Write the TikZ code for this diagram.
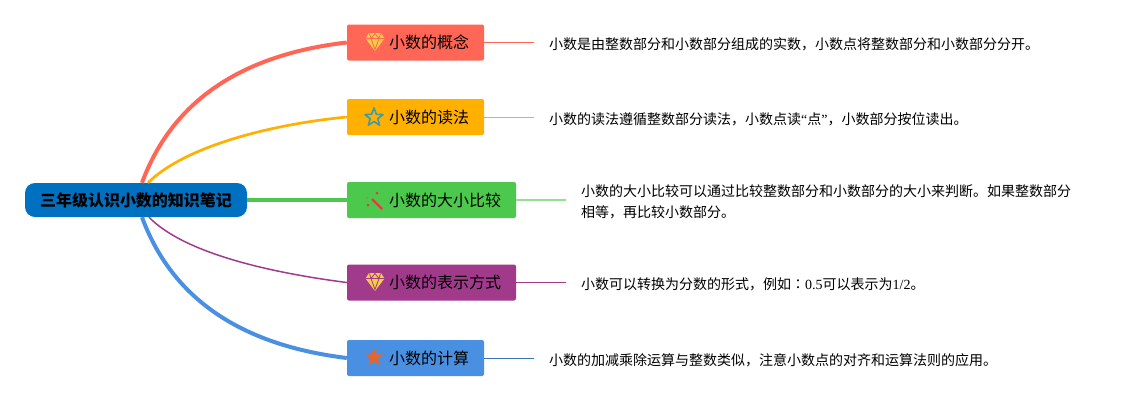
\documentclass[tikz,border=0pt]{standalone}
\usepackage{fontspec}
\setmainfont{Noto Sans CJK SC}
\newfontfamily\latinfont{Liberation Serif}
\newfontfamily\colonfont{Noto Sans CJK TC}
\definecolor{rootblue}{HTML}{0070C0}
\definecolor{topicred}{HTML}{FF6655}
\definecolor{topicorange}{HTML}{FFB000}
\definecolor{topicgreen}{HTML}{4CC94C}
\definecolor{topicpurple}{HTML}{A23A8C}
\definecolor{topicblue}{HTML}{4A90E2}
\definecolor{gemyellow}{HTML}{F7CB45}
\definecolor{starteal}{HTML}{3E9CA8}
\definecolor{starred}{HTML}{E8642C}
\definecolor{wandred}{HTML}{D9403F}
\tikzset{
    rootnode/.style={fill=rootblue, rounded corners=10pt, minimum width=222pt, minimum height=34pt,
        inner sep=0pt, font=\fontsize{16}{18}\selectfont\bfseries},
    topicnode/.style={fill=#1, rounded corners=2pt, minimum height=36pt, inner xsep=15pt, inner ysep=0pt,
        font=\fontsize{16}{20}\selectfont, execute at begin node=\hspace*{27pt}},
    leafnode/.style={anchor=west, align=left, inner xsep=15pt, inner ysep=0pt,
        font=\fontsize{14}{21}\selectfont},
    gem/.pic={
        \fill[gemyellow, rounded corners=0.5pt] (-6,-9) -- (6,-9) -- (9.5,-3.5) -- (0,9) -- (-9.5,-3.5) -- cycle;
        \draw[#1, line width=0.8pt] (-9,-3.5) -- (9,-3.5) (-4,-3.5) -- (0,7.5) -- (4,-3.5) (-5.5,-8.5) -- (-4,-3.5) -- (0,-8.5) -- (4,-3.5) -- (5.5,-8.5);
    },
    starshape/.pic={
        \path[pic actions] (0,-9.5) -- (2.4,-3.2) -- (9,-2.9) -- (3.8,1.2) -- (5.6,7.7) -- (0,4)
            -- (-5.6,7.7) -- (-3.8,1.2) -- (-9,-2.9) -- (-2.4,-3.2) -- cycle;
    },
}
\begin{document}
\begin{tikzpicture}[x=1pt, y=-1pt]
    \useasboundingbox (0,0) rectangle (1141,400);

    \node[rootnode] (root) at (136,200) {三年级认识小数的知识笔记};

    \node[topicnode=topicred] (concept) at (415.5,42.5) {\raisebox{-1pt}{小数的概念}};
    \node[topicnode=topicorange] (reading) at (415.5,117) {\raisebox{-1pt}{小数的读法}};
    \node[topicnode=topicgreen] (compare) at (431.5,200) {\raisebox{-1pt}{小数的大小比较}};
    \node[topicnode=topicpurple] (notation) at (431.5,282.5) {\raisebox{-1pt}{小数的表示方式}};
    \node[topicnode=topicblue] (compute) at (415.5,358) {\raisebox{-1pt}{小数的计算}};

    \node[leafnode] (conceptleaf) at (534,44.5) {小数是由整数部分和小数部分组成的实数，小数点将整数部分和小数部分分开。};
    \node[leafnode] (readingleaf) at (534,119) {小数的读法遵循整数部分读法，小数点读{\latinfont “}点{\latinfont ”}，小数部分按位读出。};
    \node[leafnode] (compareleaf) at (566,201.5) {小数的大小比较可以通过比较整数部分和小数部分的大小来判断。如果整数部分\\相等，再比较小数部分。};
    \node[leafnode] (notationleaf) at (566,284.5) {小数可以转换为分数的形式，例如{\colonfont ：}{\latinfont 0.5}可以表示为{\latinfont 1/2}。};
    \node[leafnode] (computeleaf) at (534,360) {小数的加减乘除运算与整数类似，注意小数点的对齐和运算法则的应用。};

    \draw[topicred, line width=4pt] ([xshift=6pt]root.north) .. controls (178,85) and (265,52) .. (concept.west);
    \draw[topicorange, line width=2.7pt] ([xshift=12pt]root.north) .. controls (183,148) and (265,125) .. (reading.west);
    \draw[topicgreen, line width=3.5pt] (root.east) -- (compare.west);
    \draw[topicpurple, line width=1.5pt] ([xshift=13pt]root.south) .. controls (183,252) and (265,272) .. (notation.west);
    \draw[topicblue, line width=4pt] ([xshift=6pt]root.south) .. controls (178,315) and (265,348) .. (compute.west);

    \draw[topicred] (concept) -- (concept -| conceptleaf.west);
    \draw[topicorange] (reading) -- (reading -| readingleaf.west);
    \draw[topicgreen!60!white, line width=1.5pt] (compare) -- (compare -| compareleaf.west);
    \draw[topicpurple] (notation) -- (notation -| notationleaf.west);
    \draw[topicblue!80!black] (compute) -- (compute -| computeleaf.west);

    % icons
    \pic at (375,42) {gem=topicred};
    \pic[draw=starteal, line width=1.6pt, line join=round] at (374,117.5) {starshape};
    \pic at (375,282) {gem=topicpurple};
    \pic[fill=starred, line join=round] at (374,357.5) {starshape};
    \draw[wandred, line width=2.2pt] (372,199) -- (382,209);
    \fill[wandred] (377,193) circle (1.5pt) (368,205) circle (1.5pt) (367,198) circle (0.7pt);
\end{tikzpicture}
\end{document}
